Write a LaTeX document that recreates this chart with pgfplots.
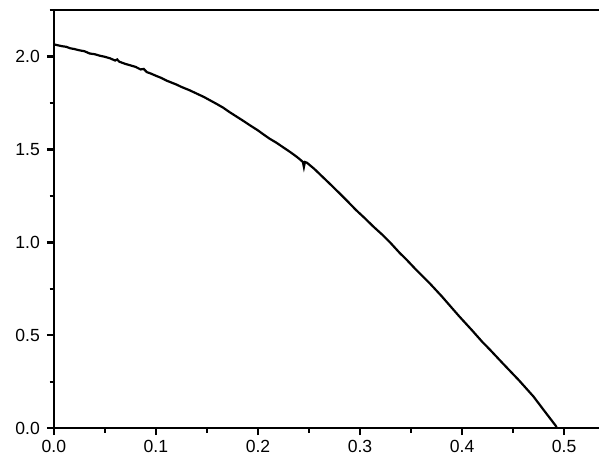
\documentclass[border=0pt]{standalone}
\usepackage{fontspec}
\setmainfont{Liberation Sans}
\usepackage{pgfplots}
\pgfplotsset{compat=1.18}

\begin{document}
\begin{tikzpicture}
\begin{axis}[
  scale only axis, width=273pt, height=209.5pt,
  xmin=0, xmax=0.534, ymin=0, ymax=2.25,
  axis x line=box, axis y line=left,
  axis line style={line width=1.2pt, -},
  xtick={0,0.1,...,0.5}, ytick={0,0.5,...,2.0},
  minor xtick={0.05,0.15,...,0.45}, minor ytick={0.25,0.75,...,2.25},
  xtick pos=bottom, ytick pos=left,
  tick align=outside,
  major tick length=3.5pt, minor tick length=2.2pt,
  every tick/.style={line width=1.2pt, black},
  xticklabel style={/pgf/number format/.cd, fixed, fixed zerofill, precision=1},
  yticklabel style={/pgf/number format/.cd, fixed, fixed zerofill, precision=1},
  /pgf/number format/assume math mode=true,
  tick label style={font=\fontsize{8.8}{10}\selectfont},
  xticklabel shift=-1pt, yticklabel shift=0pt,
  clip=false,
]
\addplot[black, line width=1.1pt] coordinates {
(0.000,2.065)(0.004,2.060)(0.008,2.055)(0.012,2.052)(0.016,2.044)(0.020,2.040)
(0.025,2.033)(0.030,2.028)(0.035,2.016)(0.040,2.012)(0.045,2.004)(0.050,1.998)
(0.055,1.990)(0.060,1.978)(0.062,1.984)(0.064,1.972)(0.070,1.960)(0.075,1.952)
(0.080,1.944)(0.085,1.930)(0.088,1.933)(0.091,1.916)(0.095,1.908)(0.100,1.896)
(0.105,1.885)(0.110,1.871)(0.115,1.860)(0.120,1.849)(0.125,1.836)(0.133,1.818)
(0.140,1.800)(0.147,1.782)(0.153,1.764)(0.160,1.743)(0.166,1.724)(0.172,1.701)
(0.180,1.673)(0.186,1.652)(0.192,1.630)(0.200,1.602)(0.205,1.582)(0.211,1.559)
(0.218,1.536)(0.225,1.510)(0.232,1.484)(0.238,1.460)(0.242,1.442)(0.244,1.432)
(0.245,1.405)(0.246,1.432)(0.248,1.428)(0.255,1.396)(0.262,1.359)(0.270,1.317)
(0.278,1.274)(0.287,1.225)(0.296,1.174)(0.305,1.128)(0.313,1.085)(0.322,1.040)
(0.330,0.996)(0.339,0.942)(0.345,0.910)(0.355,0.852)(0.368,0.781)(0.380,0.710)
(0.390,0.647)(0.397,0.603)(0.410,0.525)(0.420,0.463)(0.427,0.424)(0.440,0.348)
(0.456,0.256)(0.470,0.170)(0.482,0.083)(0.4919,0.012)(0.493,0.000)
};
\path (rel axis cs:0,0) ++(-27pt,-14pt) coordinate (bl);
\path (rel axis cs:1,1) ++(0pt,5pt) coordinate (tr);
\useasboundingbox (bl) rectangle (tr);
\end{axis}
\end{tikzpicture}
\end{document}
